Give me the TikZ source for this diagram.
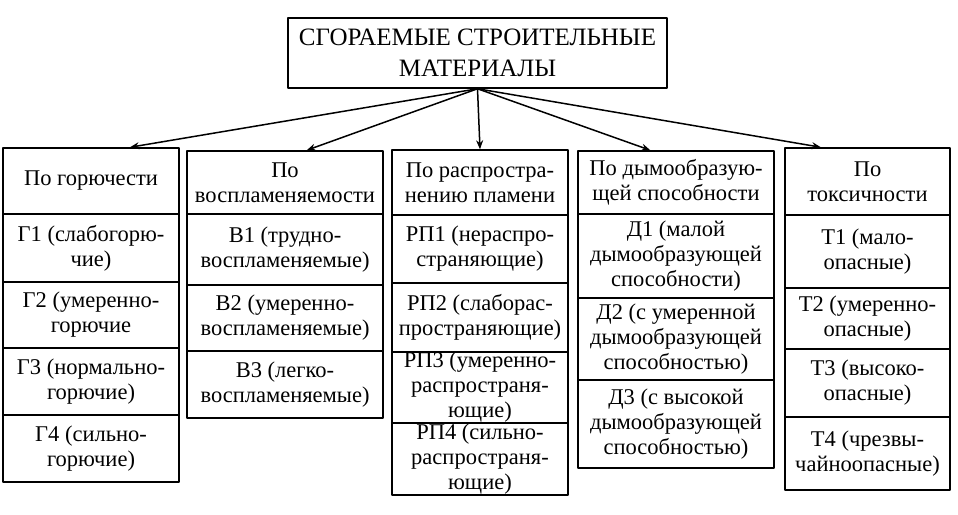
\documentclass[tikz,border=0pt]{standalone}
\usepackage{fontspec}
\setmainfont{Liberation Serif}
\usetikzlibrary{arrows.meta,calc}
\begin{document}
\begin{tikzpicture}[x=1pt, y=-1pt, line width=1.5pt, line join=round,
	cell/.style={draw, align=center, inner sep=0pt, font=\fontsize{22.5}{25}\selectfont},
	arr/.style={-{Stealth[length=9pt,width=7pt]}}]
	\useasboundingbox (0,0) rectangle (958,514);
	\node[draw, minimum width=379, minimum height=70, align=center, font=\fontsize{25}{31}\selectfont] (title) at (477.5,53) {СГОРАЕМЫЕ СТРОИТЕЛЬНЫЕ\\МАТЕРИАЛЫ};
	% по горючести
	\foreach \n/\ya/\yb/\txt in {h1/148/214/{По горючести}, g1/214/282/{Г1 (слабогорю-\\чие)}, g2/282/348/{Г2 (умеренно-\\горючие}, g3/348/415/{Г3 (нормально-\\горючие)}, g4/415/482/{Г4 (сильно-\\горючие)}}
	\node[cell, minimum width=176, minimum height={\yb-\ya}] (\n) at (91,{(\ya+\yb)/2}) {\txt};
	% по воспламеняемости
	\foreach \n/\ya/\yb/\txt in {h2/151/214/{По\\воспламеняемости}, v1/214/285/{В1 (трудно-\\воспламеняемые)}, v2/285/351/{В2 (умеренно-\\воспламеняемые)}, v3/351/418/{В3 (легко-\\воспламеняемые)}}
	\node[cell, minimum width=196, minimum height={\yb-\ya}] (\n) at (285,{(\ya+\yb)/2}) {\txt};
	% по распространению пламени
	\foreach \n/\ya/\yb/\txt in {h3/150/215/{По распростра-\\нению пламени}, r1/215/283/{РП1 (нераспро-\\страняющие)}, r2/283/352/{РП2 (слаборас-\\пространяющие)}, r3/352/423/{РП3 (умеренно-\\распространя-\\ющие)}, r4/423/495/{РП4 (сильно-\\распространя-\\ющие)}}
	\node[cell, minimum width=176, minimum height={\yb-\ya}] (\n) at (480,{(\ya+\yb)/2}) {\txt};
	% по дымообразующей способности
	\foreach \n/\ya/\yb/\txt in {h4/151/214/{По дымообразую-\\щей способности}, d1/214/298/{Д1 (малой\\дымообразующей\\способности)}, d2/298/380/{Д2 (с умеренной\\дымообразующей\\способностью)}, d3/380/468/{Д3 (с высокой\\дымообразующей\\способностью)}}
	\node[cell, minimum width=196, minimum height={\yb-\ya}] (\n) at (676,{(\ya+\yb)/2}) {\txt};
	% по токсичности
	\foreach \n/\ya/\yb/\txt in {h5/148/215/{По\\токсичности}, t1/215/288/{Т1 (мало-\\опасные)}, t2/288/349/{Т2 (умеренно-\\опасные)}, t3/349/417/{Т3 (высоко-\\опасные)}, t4/417/490/{Т4 (чрезвы-\\чайноопасные)}}
	\node[cell, minimum width=165, minimum height={\yb-\ya}] (\n) at (867.5,{(\ya+\yb)/2}) {\txt};
	\foreach \h/\f in {h1/0.72, h2/0.61, h3/0.5, h4/0.37, h5/0.22}
	\draw[arr] (title.south) -- ($(\h.north west)!\f!(\h.north east)$);
\end{tikzpicture}
\end{document}
